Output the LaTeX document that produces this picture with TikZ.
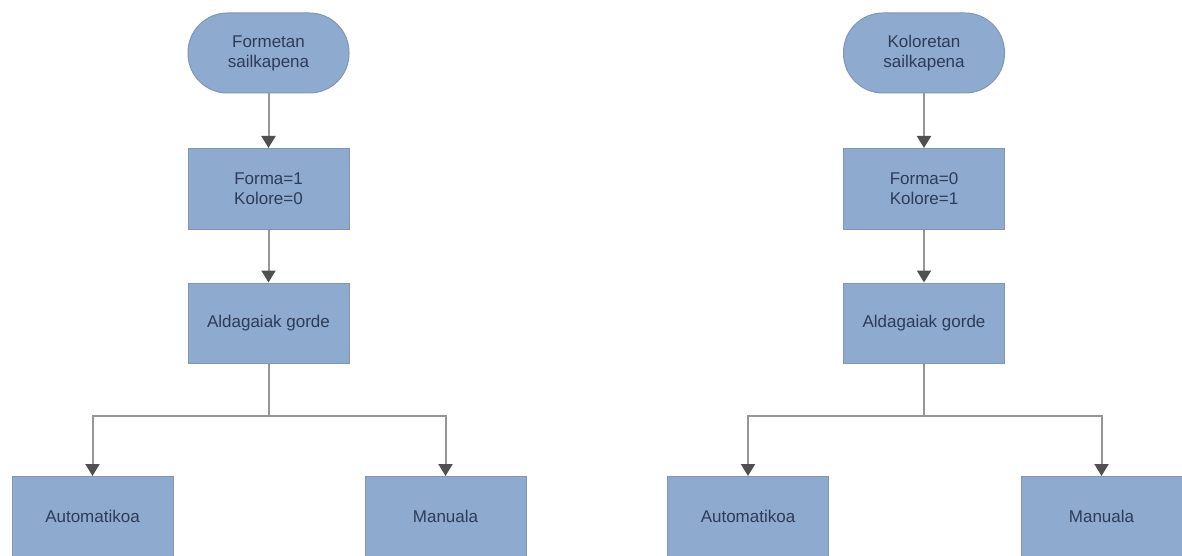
\documentclass[tikz,border=0pt]{standalone}
\usepackage{fontspec}
\setmainfont{Liberation Sans}
\usetikzlibrary{arrows.meta}
\definecolor{boxfill}{RGB}{143,170,207}
\definecolor{boxedge}{RGB}{128,150,184}
\definecolor{boxtext}{RGB}{45,60,88}
\definecolor{wire}{RGB}{150,150,150}
\definecolor{tipcol}{RGB}{80,80,80}
\tikzset{
  base/.style={draw=boxedge, line width=1pt, fill=boxfill, text=boxtext,
    minimum width=161pt, minimum height=80pt, align=center, inner sep=2pt,
    font=\fontsize{17}{20}\selectfont},
  procbox/.style={base, rectangle},
  termbox/.style={base, rectangle, rounded corners=39.5pt},
  wireline/.style={draw=wire, line width=2pt},
  flow/.style={wireline, -{Triangle[width=14pt,length=12pt,color=tipcol]}}
}
\begin{document}
\begin{tikzpicture}[x=1pt,y=-1pt]
  \useasboundingbox (0,0) rectangle (1182,556);

  % shape-based branch
  \node[termbox] (t1) at (268.5,53) {Formetan\\sailkapena};
  \node[procbox, minimum height=81pt] (f1) at (268.5,189) {Forma=1\\Kolore=0};
  \node[procbox] (a1) at (268.5,323) {Aldagaiak gorde};
  \node[procbox] (au1) at (92.5,516.5) {Automatikoa};
  \node[procbox] (m1) at (445.5,516.5) {Manuala};

  \draw[flow] (t1) -- (f1);
  \draw[flow] (f1) -- (a1);
  \draw[wireline] (a1.south) -- ++(0,52) coordinate (j1);
  \draw[flow] (j1) -| (au1.north);
  \draw[flow] (j1) -| (m1.north);

  % colour-based branch
  \node[termbox] (t2) at (924,53) {Koloretan\\sailkapena};
  \node[procbox, minimum height=81pt] (f2) at (924,189) {Forma=0\\Kolore=1};
  \node[procbox] (a2) at (924,323) {Aldagaiak gorde};
  \node[procbox] (au2) at (748,516.5) {Automatikoa};
  \node[procbox] (m2) at (1101.5,516.5) {Manuala};

  \draw[flow] (t2) -- (f2);
  \draw[flow] (f2) -- (a2);
  \draw[wireline] (a2.south) -- ++(0,52) coordinate (j2);
  \draw[flow] (j2) -| (au2.north);
  \draw[flow] (j2) -| (m2.north);
\end{tikzpicture}
\end{document}
